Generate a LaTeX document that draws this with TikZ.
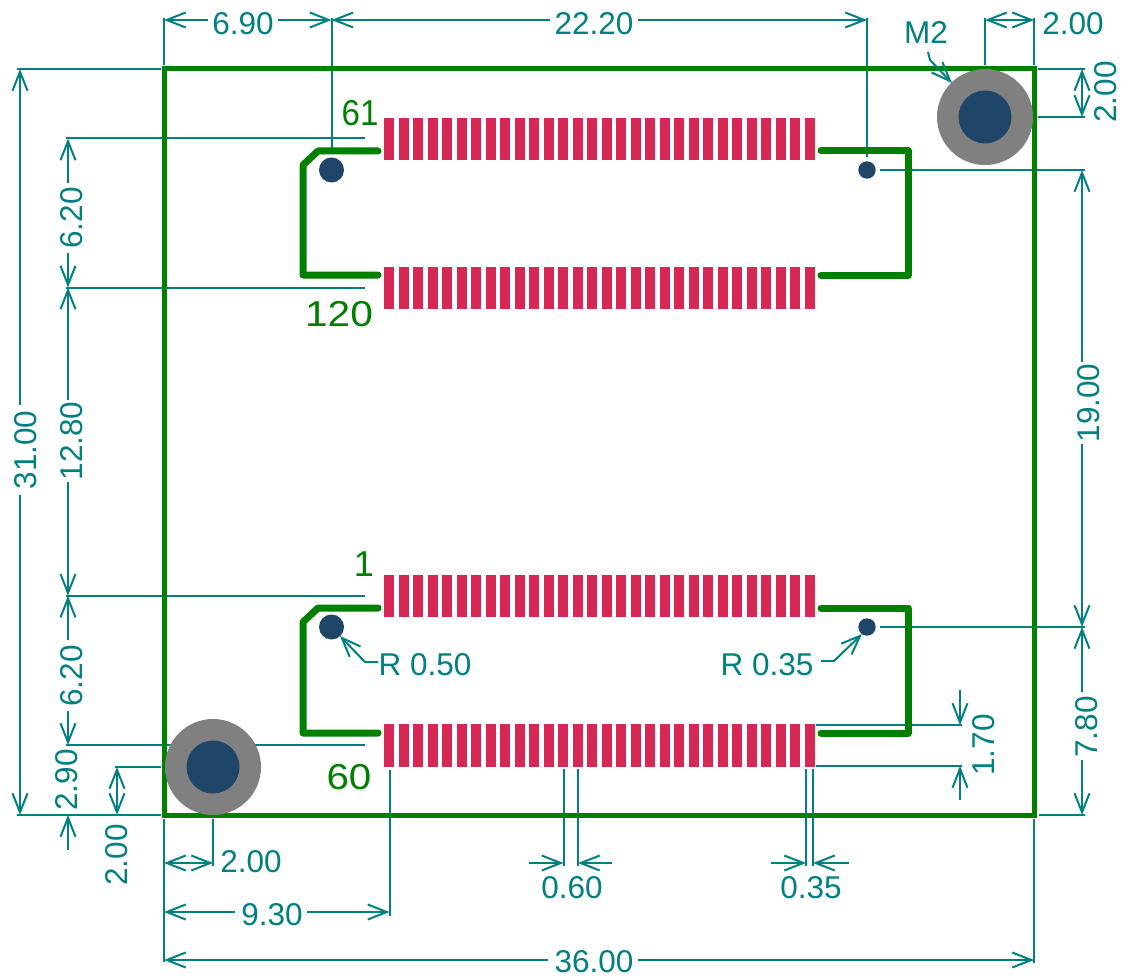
\documentclass[tikz,border=0pt]{standalone}
\usepackage{fontspec}
\setmainfont{Liberation Sans}
\usetikzlibrary{arrows.meta}
\definecolor{dimc}{HTML}{008080}
\definecolor{silk}{HTML}{008000}
\definecolor{padc}{HTML}{D62755}
\definecolor{holec}{HTML}{1F4568}
\definecolor{ringc}{HTML}{808080}
\tikzset{
  every picture/.style={x=1pt,y=-1pt},
  dimline/.style={draw=dimc,line width=2pt},
  dimarrow/.style={dimline,-{Straight Barb[length=19pt,width=15pt,line width=2pt]}},
  dimboth/.style={dimline,{Straight Barb[length=19pt,width=15pt,line width=2pt]}-{Straight Barb[length=19pt,width=15pt,line width=2pt]}},
  dimlabel/.style={text=dimc,inner sep=0pt,font=\fontsize{31.5}{31.5}\selectfont},
  silkline/.style={draw=silk,line width=7pt,line cap=round,line join=round},
  board/.style={draw=silk,line width=5pt,line join=miter},
  silktext/.style={text=silk,inner sep=0pt,font=\fontsize{36}{36}\selectfont},
  pad/.style={fill=padc,draw=none},
  ring/.style={fill=ringc,draw=none},
  hole/.style={fill=holec,draw=none}
}
\begin{document}
\begin{tikzpicture}
\useasboundingbox (0,0) rectangle (1126,976);
\fill[white] (0,0) rectangle (1126,976);

% extension lines
\draw[dimline] (164,18) -- (164,65);
\draw[dimline] (331.5,18) -- (331.5,153);
\draw[dimline] (867,18) -- (867,157);
\draw[dimline] (985,18) -- (985,65);
\draw[dimline] (1034,18) -- (1034,65);
\draw[dimline] (1038,69) -- (1085,69);
\draw[dimline] (1038,117) -- (1085,117);
\draw[dimline] (880,170) -- (1085,170);
\draw[dimline] (880,627) -- (1085,627);
\draw[dimline] (1039,815) -- (1085,815);
\draw[dimline] (17,69) -- (161,69);
\draw[dimline] (17,815) -- (161,815);
\draw[dimline] (66,138.5) -- (365,138.5);
\draw[dimline] (66,287.5) -- (365,287.5);
\draw[dimline] (66,595.7) -- (365,595.7);
\draw[dimline] (66,745) -- (365,745);
\draw[dimline] (115,767) -- (161,767);
\draw[dimline] (816,725) -- (962,725);
\draw[dimline] (816,766) -- (962,766);
\draw[dimline] (164,819) -- (164,962);
\draw[dimline] (213,819) -- (213,866);
\draw[dimline] (389.5,770) -- (389.5,916);
\draw[dimline] (563.5,769) -- (563.5,866);
\draw[dimline] (578,769) -- (578,866);
\draw[dimline] (806,769) -- (806,866);
\draw[dimline] (813,769) -- (813,866);
\draw[dimline] (1034,819) -- (1034,963);

% board outline and silkscreen
\draw[board] (164,69) rectangle (1034,815);
\draw[silkline] (378,151) -- (318,151) -- (303,165) -- (303,275) -- (378,275);
\draw[silkline] (821,151) -- (908,151) -- (908,275) -- (821,275);
\draw[silkline] (378,608) -- (318,608) -- (303,622) -- (303,733) -- (378,733);
\draw[silkline] (821,608) -- (908,608) -- (908,733) -- (821,733);

% pads
\foreach \i in {0,...,29}{
  \fill[pad] ({384+14.5*\i},118) rectangle ++(10,42);
  \fill[pad] ({384+14.5*\i},267) rectangle ++(10,42);
  \fill[pad] ({384+14.5*\i},575) rectangle ++(10,42);
  \fill[pad] ({384+14.5*\i},724) rectangle ++(10,43);
}

% holes
\fill[ring] (985,117) circle (48);
\fill[hole] (985,117) circle (26.5);
\fill[ring] (213,767) circle (48);
\fill[hole] (213,767) circle (26.5);
\fill[hole] (331.5,170) circle (12.5);
\fill[hole] (867,170) circle (8.7);
\fill[hole] (331.5,627) circle (12.5);
\fill[hole] (867,627) circle (8.7);

% dimension lines: top
\node[dimlabel] (d690) at (243,24) {6.90};
\draw[dimarrow] (d690.west)++(-4,-4) -- (164,20);
\draw[dimarrow] (d690.east)++(4,-4) -- (331.5,20);
\node[dimlabel] (d2220) at (594,24) {22.20};
\draw[dimarrow] (d2220.west)++(-4,-4) -- (331.5,20);
\draw[dimarrow] (d2220.east)++(4,-4) -- (867,20);
\draw[dimboth] (985,20) -- (1034,20);
\node[dimlabel] (d200a) at (1073,24) {2.00};

% right
\draw[dimboth] (1082,69) -- (1082,117);
\node[dimlabel,rotate=90] (d200b) at (1106,92) {2.00};
\node[dimlabel,rotate=90] (d1900) at (1089,403) {19.00};
\draw[dimarrow] (1082,362) -- (1082,170);
\draw[dimarrow] (1082,444) -- (1082,627);
\node[dimlabel,rotate=90] (d780) at (1087,727) {7.80};
\draw[dimarrow] (1082,692) -- (1082,627);
\draw[dimarrow] (1082,760) -- (1082,815);

% left
\node[dimlabel,rotate=90] (d3100) at (26,450) {31.00};
\draw[dimarrow] (20,405) -- (20,69);
\draw[dimarrow] (20,495) -- (20,815);
\node[dimlabel,rotate=90] (d620a) at (72,218) {6.20};
\draw[dimarrow] (68,183) -- (68,138.5);
\draw[dimarrow] (68,253) -- (68,287.5);
\node[dimlabel,rotate=90] (d1280) at (72,441) {12.80};
\draw[dimarrow] (68,400) -- (68,287.5);
\draw[dimarrow] (68,482) -- (68,595.7);
\node[dimlabel,rotate=90] (d620b) at (72,676) {6.20};
\draw[dimarrow] (68,640) -- (68,595.7);
\draw[dimarrow] (68,711) -- (68,745);
\node[dimlabel,rotate=90] (d290) at (67,780) {2.90};
\draw[dimarrow] (68,850) -- (68,815);
\draw[dimboth] (117,767) -- (117,815);
\node[dimlabel,rotate=90] (d200c) at (117,855) {2.00};

% bottom
\draw[dimboth] (164,863) -- (213,863);
\node[dimlabel] (d200d) at (251,862) {2.00};
\node[dimlabel] (d930) at (272,915) {9.30};
\draw[dimarrow] (235,912) -- (164,912);
\draw[dimarrow] (307,912) -- (389.5,912);
\node[dimlabel] (d3600) at (594,961.5) {36.00};
\draw[dimarrow] (548,960) -- (164,960);
\draw[dimarrow] (638,960) -- (1034,960);
\draw[dimarrow] (529,863) -- (563.5,863);
\draw[dimarrow] (612,863) -- (578,863);
\node[dimlabel] (d060) at (572,888) {0.60};
\draw[dimarrow] (771,863) -- (806,863);
\draw[dimarrow] (849,863) -- (813,863);
\node[dimlabel] (d035) at (811,888) {0.35};

% 1.70
\draw[dimarrow] (960,690) -- (960,725);
\draw[dimarrow] (960,800) -- (960,766);
\node[dimlabel,rotate=90] (d170) at (984,745) {1.70};

% leaders
\node[dimlabel] (m2) at (926,33) {M2};
\draw[dimarrow] (928,52) -- (930,60) -- (952,83);
\node[dimlabel] (r050) at (425,665) {R 0.50};
\draw[dimarrow] (378,662) -- (365,662) -- (340,636);
\node[dimlabel] (r035) at (767,665) {R 0.35};
\draw[dimarrow] (821,661) -- (834,661) -- (862,634);

% silkscreen labels
\node[silktext,xscale=0.92] (p61) at (360,113) {61};
\node[silktext,xscale=1.13] (p120) at (339,314) {120};
\node[silktext] (p1) at (364,564) {1};
\node[silktext,xscale=1.12] (p60) at (349,777) {60};
\end{tikzpicture}
\end{document}
